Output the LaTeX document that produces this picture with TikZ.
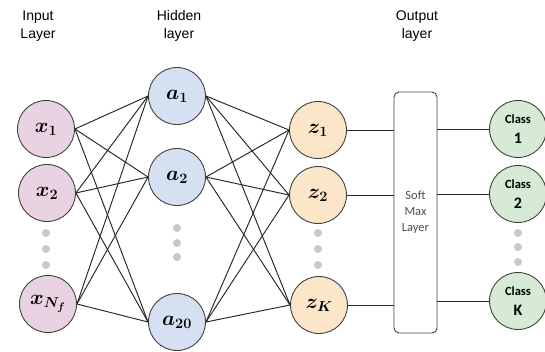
\documentclass[tikz,border=0pt]{standalone}
\usepackage{fontspec}
\setmainfont{Liberation Sans}
\newfontfamily\calibri{Carlito}
\usepackage{bm}
\definecolor{inpink}{HTML}{E9D3E3}
\definecolor{hidblue}{HTML}{D5E1F3}
\definecolor{outcream}{HTML}{FBE6C9}
\definecolor{clsgreen}{HTML}{D6EAD6}
\definecolor{dotgrey}{HTML}{C8C8C8}
\tikzset{
	neuron/.style={circle,draw=black!75,line width=0.9pt,minimum size=57pt,inner sep=0pt,font=\fontsize{21}{24}\selectfont},
	classnode/.style={neuron,fill=clsgreen,align=center,font=\calibri\bfseries\fontsize{12.5}{20}\selectfont},
	header/.style={align=center,font=\fontsize{14}{18.5}\selectfont},
	vdot/.style={circle,fill=dotgrey,minimum size=8pt,inner sep=0pt},
	link/.style={line width=0.95pt,black!85}
}
\newcommand{\clsnum}[1]{{\fontsize{16}{20}\selectfont #1}}
\begin{document}
\begin{tikzpicture}[x=1pt,y=-1pt]
	\useasboundingbox (0,0) rectangle (545,351);
	% headers
	\node[header] (hin) at (38,26) {Input\\Layer};
	\node[header] (hhid) at (179,26) {Hidden\\layer};
	\node[header] (hout) at (417,26) {Output\\layer};
	
	% input layer
	\node[neuron,fill=inpink] (x1) at (46,129) {$\bm{x_1}$};
	\node[neuron,fill=inpink] (x2) at (47,193) {$\bm{x_2}$};
	\node[neuron,fill=inpink] (x3) at (48,304) {$\bm{x_{N_f}}$};
	\node[vdot] (xd1) at (46,233) {};
	\node[vdot] (xd2) at (46,249) {};
	\node[vdot] (xd3) at (46,265) {};
	
	% hidden layer
	\node[neuron,fill=hidblue] (a1) at (177,96) {$\bm{a_1}$};
	\node[neuron,fill=hidblue] (a2) at (177,177) {$\bm{a_2}$};
	\node[neuron,fill=hidblue] (a3) at (177,322) {$\bm{a_{20}}$};
	\node[vdot] (ad1) at (177,228) {};
	\node[vdot] (ad2) at (177,243) {};
	\node[vdot] (ad3) at (177,257) {};
	
	% output neurons
	\node[neuron,fill=outcream] (z1) at (318,130) {$\bm{z_1}$};
	\node[neuron,fill=outcream] (z2) at (318,195) {$\bm{z_2}$};
	\node[neuron,fill=outcream] (z3) at (319,305) {$\bm{z_K}$};
	\node[vdot] (zd1) at (318,233) {};
	\node[vdot] (zd2) at (318,249) {};
	\node[vdot] (zd3) at (318,265) {};
	
	% soft max
	\node[draw=black!75,line width=0.9pt,rounded corners=5pt,minimum width=43pt,minimum height=241pt,align=center,
		font=\calibri\fontsize{12.5}{16}\selectfont,text=black!70] (sm) at (415.5,212.5) {Soft\\Max\\Layer};
	
	% classes
	\node[classnode] (c1) at (518,129) {Class\\\clsnum{1}};
	\node[classnode] (c2) at (518,194) {Class\\\clsnum{2}};
	\node[classnode] (c3) at (518,301) {Class\\\clsnum{K}};
	\node[vdot] (cd1) at (518,233) {};
	\node[vdot] (cd2) at (518,247) {};
	\node[vdot] (cd3) at (518,262) {};
	
	% connections
	\foreach \i in {1,2,3}
		\foreach \j in {1,2,3} {
			\draw[link] (x\i.east) -- (a\j.west);
			\draw[link] (a\i.east) -- (z\j.west);
		}
	\foreach \i in {1,2,3} {
		\draw[link] (z\i) -- (z\i -| sm.west);
		\draw[link] (c\i -| sm.east) -- (c\i);
	}
\end{tikzpicture}
\end{document}
